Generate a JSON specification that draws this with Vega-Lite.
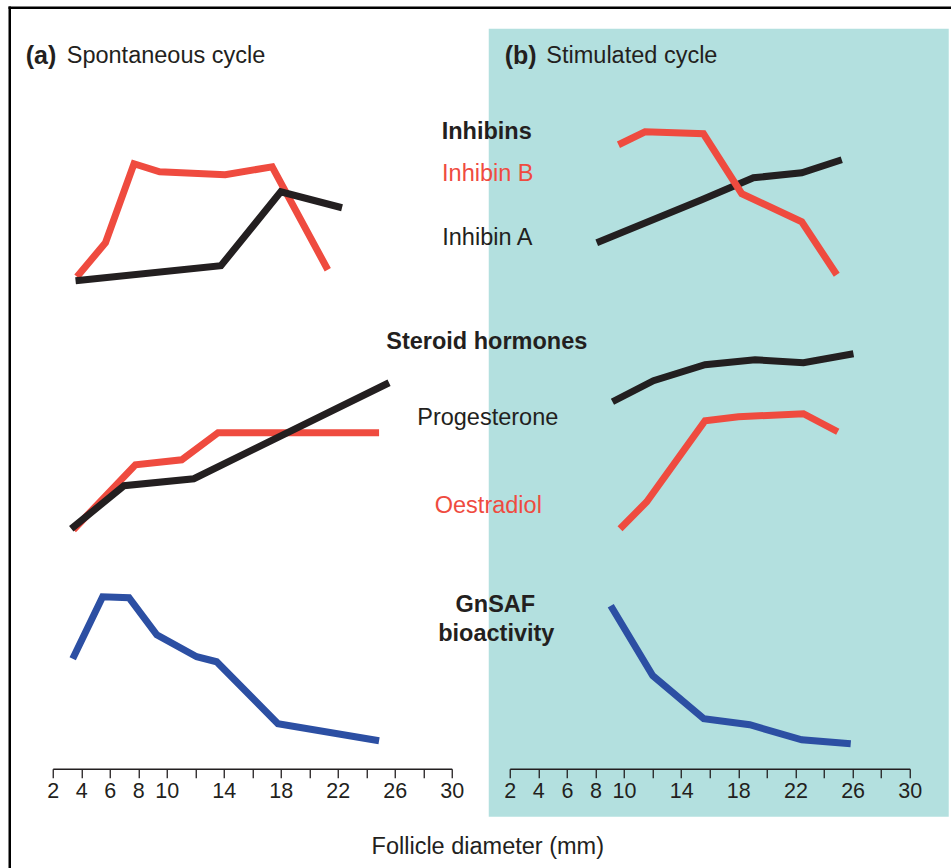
{
  "$schema": "https://vega.github.io/schema/vega-lite/v6.json",
  "autosize": {"type": "pad"},
  "padding": {"left": 6.75, "top": 4.75, "right": 0, "bottom": 0},
  "background": "white",
  "spacing": 58,
  "bounds": "flush",
  "config": {
    "font": "Liberation Sans",
    "view": {"stroke": null},
    "axis": {
      "domainColor": "#231f20", "domainWidth": 1.3,
      "tickColor": "#231f20", "tickWidth": 1.3, "tickSize": 9,
      "labelFont": "Liberation Sans", "labelFontSize": 21.5, "labelColor": "#231f20",
      "labelPadding": 3, "grid": false, "title": null,
      "labelOverlap": false, "labelFlush": false
    }
  },
  "datasets": {
    "linesA": [
      {"series": "Inhibin B", "diameter": 3.7, "level": 492},
      {"series": "Inhibin B", "diameter": 5.7, "level": 526},
      {"series": "Inhibin B", "diameter": 7.7, "level": 605},
      {"series": "Inhibin B", "diameter": 9.5, "level": 597},
      {"series": "Inhibin B", "diameter": 14.1, "level": 594},
      {"series": "Inhibin B", "diameter": 17.4, "level": 602},
      {"series": "Inhibin B", "diameter": 21.3, "level": 499},
      {"series": "Oestradiol", "diameter": 3.45, "level": 239},
      {"series": "Oestradiol", "diameter": 7.8, "level": 304},
      {"series": "Oestradiol", "diameter": 11.05, "level": 309},
      {"series": "Oestradiol", "diameter": 13.6, "level": 336},
      {"series": "Oestradiol", "diameter": 24.9, "level": 336},
      {"series": "Inhibin A", "diameter": 3.6, "level": 488},
      {"series": "Inhibin A", "diameter": 13.8, "level": 503},
      {"series": "Inhibin A", "diameter": 18.0, "level": 577},
      {"series": "Inhibin A", "diameter": 22.3, "level": 561},
      {"series": "Progesterone", "diameter": 3.3, "level": 240},
      {"series": "Progesterone", "diameter": 7.0, "level": 283},
      {"series": "Progesterone", "diameter": 11.9, "level": 290},
      {"series": "Progesterone", "diameter": 25.6, "level": 386},
      {"series": "GnSAF", "diameter": 3.4, "level": 110},
      {"series": "GnSAF", "diameter": 5.5, "level": 172},
      {"series": "GnSAF", "diameter": 7.35, "level": 171},
      {"series": "GnSAF", "diameter": 9.3, "level": 134},
      {"series": "GnSAF", "diameter": 12.1, "level": 112},
      {"series": "GnSAF", "diameter": 13.5, "level": 107},
      {"series": "GnSAF", "diameter": 17.8, "level": 45},
      {"series": "GnSAF", "diameter": 24.9, "level": 28}
    ],
    "linesB": [
      {"series": "Inhibin A", "diameter": 8.09, "level": 526},
      {"series": "Inhibin A", "diameter": 15.44, "level": 569},
      {"series": "Inhibin A", "diameter": 19.06, "level": 591},
      {"series": "Inhibin A", "diameter": 22.44, "level": 596},
      {"series": "Inhibin A", "diameter": 25.24, "level": 609},
      {"series": "Inhibin B", "diameter": 9.61, "level": 624},
      {"series": "Inhibin B", "diameter": 11.47, "level": 637},
      {"series": "Inhibin B", "diameter": 15.56, "level": 635},
      {"series": "Inhibin B", "diameter": 18.24, "level": 575},
      {"series": "Inhibin B", "diameter": 22.44, "level": 547},
      {"series": "Inhibin B", "diameter": 24.89, "level": 494},
      {"series": "Progesterone", "diameter": 9.19, "level": 367},
      {"series": "Progesterone", "diameter": 12.06, "level": 388},
      {"series": "Progesterone", "diameter": 15.67, "level": 404},
      {"series": "Progesterone", "diameter": 19.17, "level": 409},
      {"series": "Progesterone", "diameter": 22.56, "level": 406},
      {"series": "Progesterone", "diameter": 26.06, "level": 415},
      {"series": "Oestradiol", "diameter": 9.72, "level": 240},
      {"series": "Oestradiol", "diameter": 11.59, "level": 267},
      {"series": "Oestradiol", "diameter": 15.67, "level": 348},
      {"series": "Oestradiol", "diameter": 18.01, "level": 352},
      {"series": "Oestradiol", "diameter": 22.56, "level": 355},
      {"series": "Oestradiol", "diameter": 24.96, "level": 337},
      {"series": "GnSAF", "diameter": 9.07, "level": 163},
      {"series": "GnSAF", "diameter": 12.01, "level": 93},
      {"series": "GnSAF", "diameter": 15.58, "level": 50},
      {"series": "GnSAF", "diameter": 18.8, "level": 44},
      {"series": "GnSAF", "diameter": 22.44, "level": 29},
      {"series": "GnSAF", "diameter": 25.87, "level": 25}
    ],
    "headings": [
      {"label": "Inhibins", "diameter": 0.39, "level": 637},
      {"label": "Steroid hormones", "diameter": 0.39, "level": 427},
      {"label": "GnSAF", "diameter": 0.99, "level": 164},
      {"label": "bioactivity", "diameter": 1.06, "level": 135}
    ],
    "names": [
      {"label": "Inhibin B", "series": "Inhibin B", "diameter": 0.46, "level": 595},
      {"label": "Inhibin A", "series": "Inhibin A", "diameter": 0.43, "level": 531},
      {"label": "Progesterone", "series": "Progesterone", "diameter": 0.46, "level": 351},
      {"label": "Oestradiol", "series": "Oestradiol", "diameter": 0.5, "level": 263}
    ],
    "panelTags": [
      {"panel": "a", "label": "(a)", "diameter": 0.105, "level": 713},
      {"panel": "b", "label": "(b)", "diameter": 1.65, "level": 713}
    ],
    "panelNames": [
      {"panel": "a", "label": "Spontaneous cycle", "diameter": 2.98, "level": 713},
      {"panel": "b", "label": "Stimulated cycle", "diameter": 4.56, "level": 713}
    ],
    "axisTitle": [
      {"label": "Follicle diameter (mm)", "diameter": 0.46, "level": -78}
    ],
    "frame": [
      {"diameter": -1.0175, "diameter2": -1.0175, "level": 762.25, "level2": -101},
      {"diameter": -1.105, "diameter2": 65.16, "level": 761, "level2": 761}
    ],
    "shade": [
      {"diameter": 0.53, "diameter2": 32.73, "level": -48, "level2": 740}
    ]
  },
  "hconcat": [
    {
      "width": 399,
      "height": 740,
      "encoding": {
        "x": {"field": "diameter", "type": "quantitative",
          "scale": {"domain": [2, 30], "nice": false, "zero": false},
          "axis": {"values": [2,4,6,8,10,12,14,16,18,20,22,24,26,28,30], "zindex": 1,
            "labelExpr": "indexof([12,16,20,24,28], datum.value) >= 0 ? '' : datum.label"}},
        "y": {"field": "level", "type": "quantitative",
          "scale": {"domain": [0, 740], "nice": false, "zero": false}, "axis": null}
      },
      "layer": [
        {
          "data": {"name": "frame"},
          "mark": {"type": "rule", "color": "#000000", "strokeWidth": 2.5},
          "encoding": {"x2": {"field": "diameter2"}, "y2": {"field": "level2"}}
        },
        {
          "data": {"name": "linesA"},
          "mark": {"type": "line", "strokeWidth": 7, "strokeJoin": "miter", "strokeCap": "butt"},
          "encoding": {
            "color": {"field": "series", "type": "nominal", "legend": null,
              "scale": {"domain": ["Inhibin B", "Oestradiol", "Inhibin A", "Progesterone", "GnSAF"], "range": ["#ef4b3f", "#ef4b3f", "#231f20", "#231f20", "#2c4fa3"]}}
          }
        },
        {
          "data": {"name": "panelTags"},
          "transform": [{"filter": "datum.panel == 'a'"}],
          "mark": {"type": "text", "fontSize": 25, "fontWeight": "bold", "align": "left", "baseline": "middle", "color": "#231f20"},
          "encoding": {"text": {"field": "label"}}
        },
        {
          "data": {"name": "panelNames"},
          "transform": [{"filter": "datum.panel == 'a'"}],
          "mark": {"type": "text", "fontSize": 23.5, "align": "left", "baseline": "middle", "color": "#231f20"},
          "encoding": {"text": {"field": "label"}}
        }
      ]
    },
    {
      "width": 400,
      "height": 740,
      "encoding": {
        "x": {"field": "diameter", "type": "quantitative",
          "scale": {"domain": [2, 30], "nice": false, "zero": false},
          "axis": {"values": [2,4,6,8,10,12,14,16,18,20,22,24,26,28,30], "zindex": 1,
            "labelExpr": "indexof([12,16,20,24,28], datum.value) >= 0 ? '' : datum.label"}},
        "y": {"field": "level", "type": "quantitative",
          "scale": {"domain": [0, 740], "nice": false, "zero": false}, "axis": null}
      },
      "layer": [
        {
          "data": {"name": "shade"},
          "mark": {"type": "rect", "color": "#b3e0df"},
          "encoding": {"x2": {"field": "diameter2"}, "y2": {"field": "level2"}}
        },
        {
          "data": {"name": "linesB"},
          "mark": {"type": "line", "strokeWidth": 7, "strokeJoin": "miter", "strokeCap": "butt"},
          "encoding": {
            "color": {"field": "series", "type": "nominal", "legend": null,
              "scale": {"domain": ["Inhibin B", "Oestradiol", "Inhibin A", "Progesterone", "GnSAF"], "range": ["#ef4b3f", "#ef4b3f", "#231f20", "#231f20", "#2c4fa3"]}}
          }
        },
        {
          "data": {"name": "headings"},
          "mark": {"type": "text", "fontSize": 23.5, "fontWeight": "bold", "align": "center", "baseline": "middle", "color": "#231f20"},
          "encoding": {"text": {"field": "label"}}
        },
        {
          "data": {"name": "names"},
          "mark": {"type": "text", "fontSize": 23.5, "align": "center", "baseline": "middle"},
          "encoding": {
            "text": {"field": "label"},
            "color": {"field": "series", "type": "nominal", "legend": null,
              "scale": {"domain": ["Inhibin B", "Oestradiol", "Inhibin A", "Progesterone", "GnSAF"], "range": ["#ef4b3f", "#ef4b3f", "#231f20", "#231f20", "#2c4fa3"]}}
          }
        },
        {
          "data": {"name": "axisTitle"},
          "mark": {"type": "text", "fontSize": 23.5, "align": "center", "baseline": "middle", "color": "#231f20"},
          "encoding": {"text": {"field": "label"}}
        },
        {
          "data": {"name": "panelTags"},
          "transform": [{"filter": "datum.panel == 'b'"}],
          "mark": {"type": "text", "fontSize": 25, "fontWeight": "bold", "align": "left", "baseline": "middle", "color": "#231f20"},
          "encoding": {"text": {"field": "label"}}
        },
        {
          "data": {"name": "panelNames"},
          "transform": [{"filter": "datum.panel == 'b'"}],
          "mark": {"type": "text", "fontSize": 23.5, "align": "left", "baseline": "middle", "color": "#231f20"},
          "encoding": {"text": {"field": "label"}}
        }
      ]
    }
  ]
}
